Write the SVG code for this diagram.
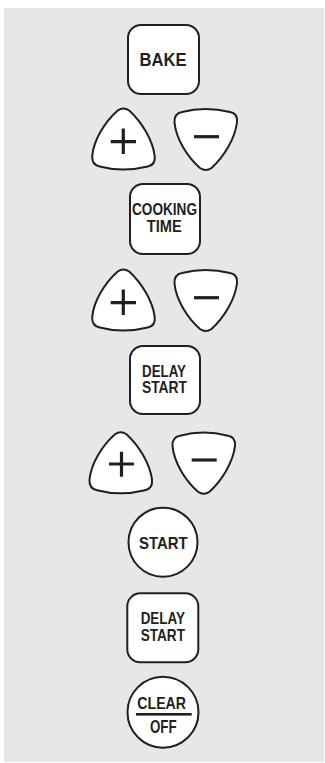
<svg xmlns="http://www.w3.org/2000/svg" xmlns:xlink="http://www.w3.org/1999/xlink" width="325" height="763" viewBox="0 0 325 763">
<style>
.key{fill:#fff;stroke:#231f20;stroke-width:2}
.lbl{font-family:"Liberation Sans Narrow","Liberation Sans",Arial,sans-serif;font-weight:bold;fill:#231f20;text-anchor:middle}
.sign{stroke:#231f20;stroke-width:3.2;fill:none}
</style>
<defs>
<path id="up" d="M26,2.5 Q31.7,-1.5 37.5,2.5 C50,14 61,32 63,48 Q64,57 56,58.5 C40,62.5 23,62.5 8,58.5 Q0,57 0.5,48 C2,32 13,14 26,2.5 Z"/>
<path id="down" d="M26,60 Q31.7,64 37.5,60 C50,48.5 61,30.5 63,14.5 Q64,5.5 56,4 C40,0 23,0 8,4 Q0,5.5 0.5,14.5 C2,30.5 13,48.5 26,60 Z"/>
</defs>
<rect x="4" y="8" width="320" height="754" fill="#e6e7e8"/>
<g id="connectors"/>
<g id="bake">
<rect class="key" x="128" y="25" width="71" height="69" rx="13"/>
<text class="lbl" x="163" y="66" font-size="19" textLength="47" lengthAdjust="spacingAndGlyphs">BAKE</text>
</g>
<g id="plus1" transform="translate(91.7,108)">
<use class="key" href="#up" xlink:href="#up"/>
<path class="sign" d="M19,33.7 H44.3 M31.6,20.5 V46"/>
</g>
<g id="minus1" transform="translate(174,108)">
<use class="key" href="#down" xlink:href="#down"/>
<path class="sign" d="M20,28.7 H45"/>
</g>
<g id="cooking-time">
<rect class="key" x="130" y="184" width="70" height="70" rx="13"/>
<text class="lbl" x="164.5" y="215.3" font-size="16" textLength="65" lengthAdjust="spacingAndGlyphs">COOKING</text>
<text class="lbl" x="164.2" y="231.7" font-size="16" textLength="35" lengthAdjust="spacingAndGlyphs">TIME</text>
</g>
<g id="plus2" transform="translate(91.7,269)">
<use class="key" href="#up" xlink:href="#up"/>
<path class="sign" d="M19,33.7 H44.3 M31.6,20.5 V46"/>
</g>
<g id="minus2" transform="translate(174,269)">
<use class="key" href="#down" xlink:href="#down"/>
<path class="sign" d="M20,28.7 H45"/>
</g>
<g id="delay-start1">
<rect class="key" x="130" y="346" width="70" height="68" rx="13"/>
<text class="lbl" x="164" y="376.7" font-size="16.5" textLength="44" lengthAdjust="spacingAndGlyphs">DELAY</text>
<text class="lbl" x="164.5" y="393.3" font-size="16.5" textLength="45" lengthAdjust="spacingAndGlyphs">START</text>
</g>
<g id="plus3" transform="translate(89,431.7)">
<use class="key" href="#up" xlink:href="#up"/>
<path class="sign" d="M20,32.3 H45 M32.5,20 V45"/>
</g>
<g id="minus3" transform="translate(172,431.7)">
<use class="key" href="#down" xlink:href="#down"/>
<path class="sign" d="M19.7,28.3 H44.7"/>
</g>
<g id="start">
<circle class="key" cx="163" cy="542.2" r="34.5"/>
<text class="lbl" x="163.3" y="549" font-size="17" textLength="48.7" lengthAdjust="spacingAndGlyphs">START</text>
</g>
<g id="delay-start2">
<rect class="key" x="127.3" y="593.3" width="71" height="69" rx="13"/>
<text class="lbl" x="162.8" y="624.3" font-size="16.5" textLength="44.3" lengthAdjust="spacingAndGlyphs">DELAY</text>
<text class="lbl" x="162.8" y="641" font-size="16.5" textLength="44.3" lengthAdjust="spacingAndGlyphs">START</text>
</g>
<g id="clear-off">
<circle class="key" cx="163" cy="712.2" r="35.5"/>
<text class="lbl" x="161.7" y="709.3" font-size="16.5" textLength="48.7" lengthAdjust="spacingAndGlyphs">CLEAR</text>
<rect x="136" y="713" width="55.7" height="2.6" fill="#231f20"/>
<text class="lbl" x="163.3" y="732.7" font-size="17.5" textLength="26.7" lengthAdjust="spacingAndGlyphs">OFF</text>
</g>
</svg>
